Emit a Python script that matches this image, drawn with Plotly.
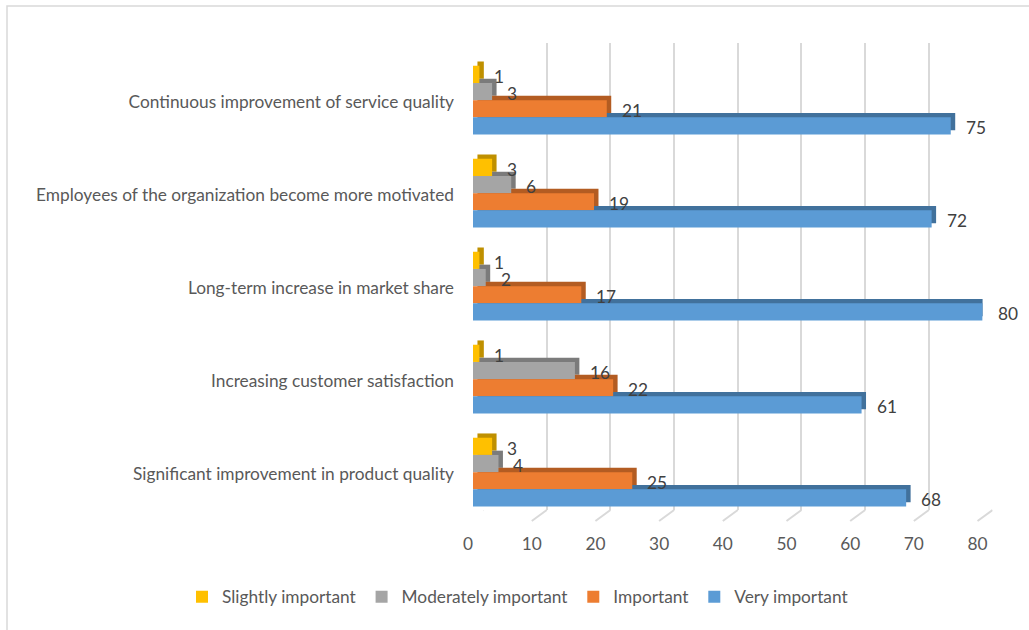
import plotly.graph_objects as go

# Survey results: importance ratings per benefit
categories = [
    "Significant improvement in product quality",
    "Increasing customer satisfaction",
    "Long-term increase in market share",
    "Employees of the organization become more motivated",
    "Continuous improvement of service quality",
]
series_names = ["Slightly important", "Moderately important", "Important", "Very important"]
slightly_important = [3, 1, 1, 3, 1]
moderately_important = [4, 16, 2, 6, 3]
important = [25, 22, 17, 19, 21]
very_important = [68, 61, 80, 72, 75]
x_ticks = [0, 10, 20, 30, 40, 50, 60, 70, 80]

series_values = [slightly_important, moderately_important, important, very_important]
front_colors = ["#FFC000", "#A5A5A5", "#ED7D31", "#5B9BD5"]
side_colors = ["#BF9000", "#7B7B7B", "#B35C22", "#41719C"]

W, H = 1029, 630
FONT = "Lato"
FS = 17.3
bar_h = 0.185
bar_offsets = [0.205, 0.02, -0.165, -0.35]   # top to bottom inside each group
depth_x = 0.7     # oblique depth, x units
depth_y = 0.046   # oblique depth, category units
positions = list(range(len(categories)))

fig = go.Figure()

# Back faces (top + side) drawn first, shifted up and to the right
for name, vals, col, off in zip(series_names, series_values, side_colors, bar_offsets):
    fig.add_trace(go.Bar(
        y=positions, x=vals, base=depth_x, orientation="h",
        offset=off + depth_y, width=bar_h,
        marker=dict(color=col, line=dict(width=0)),
        xaxis="x2", yaxis="y2", showlegend=False, hoverinfo="skip",
    ))

# Front faces
for name, vals, col, off in zip(series_names, series_values, front_colors, bar_offsets):
    fig.add_trace(go.Bar(
        y=positions, x=vals, orientation="h", name=name,
        offset=off, width=bar_h,
        marker=dict(color=col, line=dict(width=0)),
        xaxis="x2", yaxis="y2",
    ))

# Value labels
annotations = []
for vals, off in zip(series_values, bar_offsets):
    for p, v in zip(positions, vals):
        annotations.append(dict(
            x=v, y=p + off + bar_h / 2, xref="x2", yref="y2",
            text=str(v), showarrow=False, xanchor="left", yanchor="middle",
            xshift=13, yshift=-2,
            font=dict(family=FONT, size=FS, color="#404040"),
        ))

# Floor strokes below each gridline
shapes = []
for t in x_ticks:
    shapes.append(dict(
        type="line", xref="x", yref="paper",
        xsizemode="pixel", xanchor=t, x0=0, x1=-15,
        ysizemode="pixel", yanchor=1 - 510 / H, y0=0, y1=-11,
        line=dict(color="#D9D9D9", width=2),
    ))
# Chart border
shapes.append(dict(
    type="rect", xref="paper", yref="paper",
    x0=7 / W, x1=1.01, y0=-0.01, y1=1 - 6 / H,
    line=dict(color="#D9D9D9", width=1.5), fillcolor="rgba(0,0,0,0)", layer="below",
))

y_dom = [1 - 510 / H, 1 - 43 / H]
y_rng = [-36 / 93, 431 / 93]

fig.update_layout(
    width=W, height=H,
    margin=dict(l=0, r=0, t=0, b=0, autoexpand=False),
    paper_bgcolor="white", plot_bgcolor="rgba(0,0,0,0)",
    barmode="overlay",
    font=dict(family=FONT, size=FS, color="#595959"),
    xaxis=dict(
        domain=[483 / W, 992.6 / W], range=[-0.01, 80.01],
        tickvals=x_ticks, showgrid=True, gridcolor="#D9D9D9", gridwidth=2,
        zeroline=False, showline=False, ticks="",
        ticklabelshift=-15, ticklabelstandoff=22,
        tickfont=dict(family=FONT, size=FS, color="#595959"),
        anchor="y", fixedrange=True, automargin=False,
    ),
    yaxis=dict(domain=y_dom, range=y_rng, visible=False, anchor="x", automargin=False),
    xaxis2=dict(
        domain=[473 / W, 982.6 / W], range=[0, 80],
        visible=False, anchor="y2", automargin=False,
    ),
    yaxis2=dict(
        domain=y_dom, range=y_rng, anchor="x2",
        tickvals=positions, ticktext=categories,
        showgrid=False, zeroline=False, showline=False, ticks="",
        ticklabelstandoff=18, automargin=False,
        tickfont=dict(family=FONT, size=FS, color="#595959"),
    ),
    legend=dict(
        orientation="h", x=182 / W, xanchor="left", y=1 - 597 / H, yanchor="middle",
        font=dict(family=FONT, size=FS, color="#595959"),
        itemwidth=30, traceorder="normal",
    ),
    annotations=annotations,
    shapes=shapes,
)

fig.write_html("out.html")
